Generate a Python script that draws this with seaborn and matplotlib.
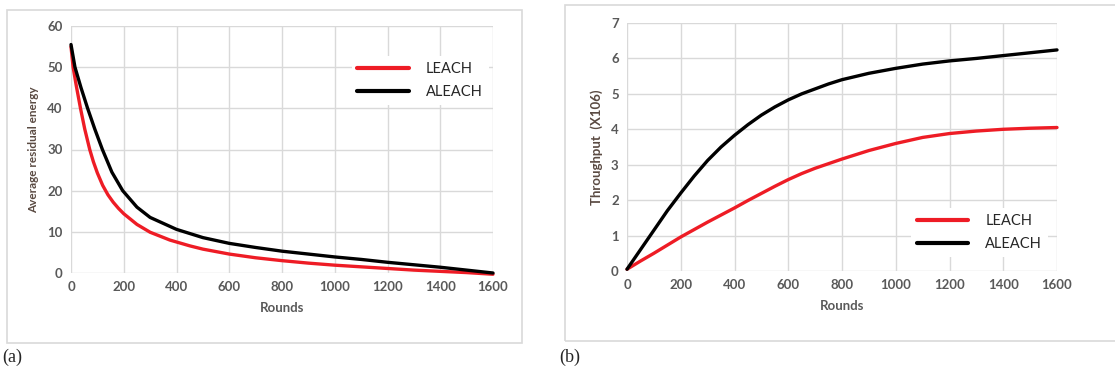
import numpy as np
import pandas as pd
import matplotlib
matplotlib.use("Agg")
import matplotlib.pyplot as plt
import seaborn as sns
from matplotlib.patches import Rectangle

# (a) average residual energy
leach_rounds_a = [0, 8, 20, 36, 52, 71, 85, 100, 120, 140, 160, 180, 200, 250, 300, 375,
                  450, 500, 600, 700, 800, 900, 1000, 1100, 1200, 1300, 1400, 1500, 1600]
leach_energy = [55, 50, 45.5, 40, 35, 30, 27, 24.3, 21.3, 19, 17.2, 15.7, 14.4, 11.8, 9.9,
                8.0, 6.6, 5.8, 4.6, 3.7, 3.0, 2.4, 1.9, 1.5, 1.1, 0.7, 0.4, 0.1, -0.3]
aleach_rounds_a = [0, 15, 38, 63, 90, 119, 155, 196, 250, 300, 400, 500, 600, 700, 800,
                   900, 1000, 1100, 1200, 1300, 1400, 1500, 1600]
aleach_energy = [55.5, 50, 45, 40, 35, 30, 24.5, 20, 16, 13.5, 10.6, 8.6, 7.2, 6.2, 5.3,
                 4.6, 3.9, 3.3, 2.6, 2.0, 1.4, 0.7, 0.0]

# (b) throughput (x10^6)
rounds_b = [0, 50, 100, 150, 200, 250, 300, 350, 400, 450, 500, 550, 600, 650, 700, 750,
            800, 900, 1000, 1100, 1200, 1300, 1400, 1500, 1600]
leach_tp = [0.05, 0.28, 0.5, 0.73, 0.96, 1.17, 1.38, 1.58, 1.78, 1.99, 2.19, 2.39, 2.58,
            2.75, 2.9, 3.03, 3.16, 3.4, 3.6, 3.77, 3.88, 3.95, 4.0, 4.03, 4.05]
aleach_tp = [0.05, 0.6, 1.15, 1.7, 2.2, 2.68, 3.12, 3.5, 3.83, 4.13, 4.4, 4.63, 4.83,
             5.0, 5.14, 5.28, 5.4, 5.58, 5.72, 5.84, 5.93, 6.0, 6.08, 6.16, 6.24]

protocols = ["LEACH", "ALEACH"]
palette = {"LEACH": "#ee1c25", "ALEACH": "#000000"}

df_a = pd.concat([pd.DataFrame({"Rounds": leach_rounds_a, "value": leach_energy, "Protocol": "LEACH"}),
                  pd.DataFrame({"Rounds": aleach_rounds_a, "value": aleach_energy, "Protocol": "ALEACH"})])
df_b = pd.concat([pd.DataFrame({"Rounds": rounds_b, "value": leach_tp, "Protocol": "LEACH"}),
                  pd.DataFrame({"Rounds": rounds_b, "value": aleach_tp, "Protocol": "ALEACH"})])

sns.set_style("white")
plt.rcParams['font.family'] = ['Lato', 'DejaVu Sans']

fig = plt.figure(figsize=(11.15, 3.81), dpi=100)
W, H = 1115, 381

# panel frames
fig.patches.append(Rectangle((7 / W, 1 - 343 / H), 515 / W, 333 / H, transform=fig.transFigure,
                             fill=False, edgecolor="#d9d9d9", linewidth=1.2))
fig.patches.append(Rectangle((565 / W, 1 - 341 / H), 560 / W, 336 / H, transform=fig.transFigure,
                             fill=False, edgecolor="#d9d9d9", linewidth=1.2))

ax1 = fig.add_axes([71 / W, 1 - 273 / H, 422 / W, 247 / H])
ax2 = fig.add_axes([627 / W, 1 - 271 / H, 430 / W, 248 / H])

panels = [
    (ax1, df_a, 60, 10, "Average residual energy", 8.5, (0.665, 0.78)),
    (ax2, df_b, 7, 1, "Throughput  (X106)", 9.5, (0.66, 0.155)),
]

for ax, df, ymax, ystep, ylabel, ysize, leg_pos in panels:
    sns.lineplot(data=df, x="Rounds", y="value", hue="Protocol", hue_order=protocols,
                 palette=palette, linewidth=2.4, ax=ax, legend=True, sort=True)
    ax.set_xlim(0, 1600)
    ax.set_ylim(0, ymax)
    ax.set_xticks(np.arange(0, 1601, 200))
    ax.set_yticks(np.arange(0, ymax + 1, ystep))
    ax.grid(True, color="#d9d9d9", linewidth=1)
    ax.set_axisbelow(True)
    for s in ax.spines.values():
        s.set_visible(False)
    ax.tick_params(axis="both", length=0, labelsize=9.5, labelcolor="#595959", pad=6)
    for lab in ax.get_xticklabels() + ax.get_yticklabels():
        lab.set_fontweight("bold")
    ax.set_xlabel("Rounds", fontsize=9.5, color="#595959", fontweight="bold", labelpad=6)
    ax.set_ylabel(ylabel, fontsize=ysize, color="#5a4a42", fontweight="bold", labelpad=6)
    handles, labels = ax.get_legend_handles_labels()
    leg = ax.legend(handles, labels, loc="center left", bbox_to_anchor=leg_pos,
                    frameon=True, facecolor="white", edgecolor="none", framealpha=1,
                    fontsize=10.5, handlelength=3.5, handletextpad=1.2, labelspacing=0.6,
                    borderaxespad=0, borderpad=0.4, fancybox=False)
    for t in leg.get_texts():
        t.set_color("#262626")
    for l in leg.get_lines():
        l.set_linewidth(3)
    for l in ax.get_lines():
        l.set_clip_on(False)
        l.set_solid_joinstyle("round")

fig.text(2 / W, 1 - 357 / H, "(a)", fontsize=13, family=["Liberation Serif", "DejaVu Serif"],
         va="center", ha="left")
fig.text(559 / W, 1 - 357 / H, "(b)", fontsize=13, family=["Liberation Serif", "DejaVu Serif"],
         va="center", ha="left")

fig.savefig("out.png", dpi=100, facecolor="white")
